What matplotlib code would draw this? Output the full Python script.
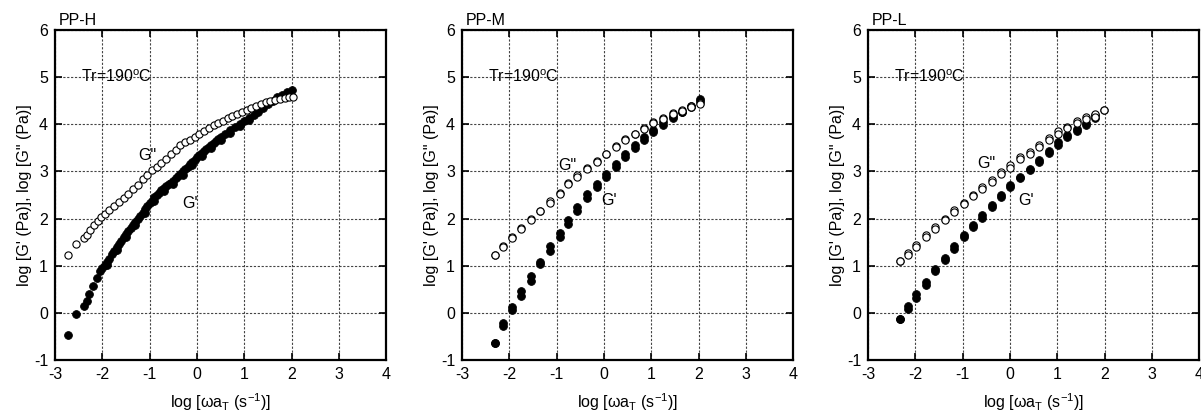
import matplotlib

matplotlib.use("Agg")
import matplotlib.pyplot as plt  # noqa: E402

plt.rcParams["font.family"] = ["Liberation Sans", "DejaVu Sans"]
plt.rcParams["mathtext.fontset"] = "custom"
plt.rcParams["mathtext.rm"] = "Liberation Sans"
plt.rcParams["mathtext.it"] = "Liberation Sans:italic"
plt.rcParams["axes.unicode_minus"] = False

# ---- PP-H (dense master curve) ----
h_gpp_x = [-2.72, -2.55, -2.38, -2.32, -2.25, -2.18, -2.10, -2.02, -1.95, -1.85,
           -1.75, -1.65, -1.55, -1.45, -1.35, -1.25, -1.15, -1.05, -0.95, -0.85,
           -0.75, -0.65, -0.55, -0.45, -0.35, -0.25, -0.15, -0.05, 0.05, 0.15,
           0.25, 0.35, 0.45, 0.55, 0.65, 0.75, 0.85, 0.95, 1.05, 1.15,
           1.25, 1.35, 1.45, 1.55, 1.65, 1.75, 1.85, 1.95, 2.02]
h_gpp_y = [1.23, 1.47, 1.58, 1.66, 1.76, 1.86, 1.95, 2.04, 2.10, 2.18,
           2.27, 2.35, 2.43, 2.52, 2.62, 2.72, 2.83, 2.93, 3.02, 3.10,
           3.18, 3.27, 3.37, 3.46, 3.55, 3.62, 3.67, 3.74, 3.80, 3.86,
           3.93, 3.98, 4.03, 4.08, 4.13, 4.17, 4.22, 4.27, 4.31, 4.35,
           4.39, 4.43, 4.47, 4.50, 4.51, 4.53, 4.55, 4.57, 4.58]
h_gp_x = [-2.72, -2.55, -2.39, -2.33, -2.28, -2.20, -2.12, -2.05, -2.00, -1.95,
          -1.90, -1.85, -1.80, -1.75, -1.70, -1.65, -1.60, -1.55, -1.50, -1.45,
          -1.40, -1.35, -1.30, -1.25, -1.20, -1.15, -1.10, -1.05, -1.00, -0.95,
          -0.90, -0.85, -0.80, -0.75, -0.70, -0.65, -0.60, -0.55, -0.50, -0.45,
          -0.40, -0.35, -0.30, -0.25, -0.20, -0.15, -0.10, -0.05, 0.00, 0.05,
          0.10, 0.15, 0.20, 0.25, 0.30, 0.35, 0.40, 0.45, 0.50, 0.60,
          0.70, 0.80, 0.90, 1.00, 1.10, 1.20, 1.30, 1.40, 1.50, 1.60,
          1.70, 1.80, 1.90, 2.00]
h_gp_y = [-0.47, -0.03, 0.14, 0.25, 0.41, 0.57, 0.74, 0.88, 0.95, 1.02,
          1.08, 1.15, 1.25, 1.32, 1.40, 1.45, 1.52, 1.60, 1.67, 1.73,
          1.80, 1.87, 1.93, 2.00, 2.05, 2.12, 2.20, 2.27, 2.33, 2.38,
          2.45, 2.50, 2.55, 2.60, 2.65, 2.70, 2.73, 2.76, 2.80, 2.85,
          2.90, 2.95, 3.00, 3.05, 3.10, 3.15, 3.20, 3.25, 3.30, 3.35,
          3.40, 3.44, 3.48, 3.52, 3.57, 3.61, 3.65, 3.69, 3.73, 3.80,
          3.87, 3.94, 4.01, 4.07, 4.14, 4.20, 4.27, 4.34, 4.42, 4.50,
          4.57, 4.63, 4.68, 4.72]
# a second, slightly lower run of G' in the middle of the PP-H curve
h_gp2_x = [-1.9, -1.7, -1.5, -1.3, -1.1, -0.9, -0.7, -0.5, -0.3, -0.1,
           0.1, 0.3, 0.5, 0.7, 0.9, 1.1]
h_gp2_y = [1.02, 1.33, 1.60, 1.86, 2.12, 2.37, 2.58, 2.74, 2.93, 3.13,
           3.33, 3.50, 3.67, 3.82, 3.96, 4.09]

# ---- PP-M (two overlapping runs) ----
m_x = [-2.31, -2.13, -1.94, -1.75, -1.54, -1.35, -1.15, -0.94, -0.75, -0.56,
       -0.35, -0.15, 0.05, 0.25, 0.44, 0.65, 0.85, 1.04, 1.25, 1.45,
       1.65, 1.84, 2.02]
m_gpp_a = [1.22, 1.41, 1.61, 1.80, 1.99, 2.16, 2.37, 2.55, 2.76, 2.92,
           3.08, 3.23, 3.38, 3.54, 3.68, 3.80, 3.92, 4.04, 4.14, 4.23,
           4.30, 4.38, 4.46]
m_gpp_b = [1.22, 1.39, 1.58, 1.77, 1.96, 2.15, 2.34, 2.53, 2.73, 2.89,
           3.06, 3.21, 3.36, 3.52, 3.66, 3.79, 3.91, 4.02, 4.12, 4.21,
           4.28, 4.37, 4.43]
m_gp_a = [-0.65, -0.22, 0.13, 0.47, 0.78, 1.08, 1.41, 1.70, 1.98, 2.25,
          2.53, 2.74, 2.95, 3.15, 3.37, 3.55, 3.72, 3.87, 4.04, 4.17,
          4.27, 4.39, 4.53]
m_gp_b = [-0.65, -0.27, 0.06, 0.36, 0.68, 1.04, 1.32, 1.61, 1.88, 2.16,
          2.44, 2.66, 2.88, 3.10, 3.30, 3.49, 3.67, 3.83, 3.99, 4.14,
          4.25, 4.37, 4.49]

# ---- PP-L (two overlapping runs) ----
l_x = [-2.33, -2.16, -1.98, -1.77, -1.58, -1.38, -1.18, -0.98, -0.78, -0.58,
       -0.38, -0.18, 0.01, 0.22, 0.42, 0.61, 0.82, 1.01, 1.21, 1.42,
       1.61, 1.80, 1.99]
l_gpp_a = [1.10, 1.26, 1.44, 1.65, 1.82, 2.00, 2.18, 2.34, 2.51, 2.67,
           2.81, 2.99, 3.13, 3.31, 3.42, 3.56, 3.71, 3.85, 3.95, 4.07,
           4.16, 4.21, 4.30]
l_gpp_b = [1.10, 1.22, 1.40, 1.60, 1.78, 1.96, 2.14, 2.31, 2.47, 2.63,
           2.78, 2.95, 3.08, 3.26, 3.38, 3.52, 3.66, 3.79, 3.92, 4.03,
           4.11, 4.16, 4.30]
l_gp_a = [-0.13, 0.14, 0.39, 0.66, 0.92, 1.17, 1.41, 1.65, 1.86, 2.07,
          2.28, 2.50, 2.71, 2.89, 3.06, 3.24, 3.44, 3.63, 3.77, 3.89,
          4.02, 4.19]
l_gp_b = [-0.13, 0.08, 0.32, 0.60, 0.88, 1.12, 1.36, 1.60, 1.82, 2.02,
          2.24, 2.46, 2.66, 2.85, 3.02, 3.20, 3.39, 3.57, 3.73, 3.85,
          3.98, 4.13]

titles = ["PP-H", "PP-M", "PP-L"]
gpp_label_pos = [(-1.25, 3.33), (-0.96, 3.13), (-0.70, 3.17)]
gp_label_pos = [(-0.32, 2.32), (-0.05, 2.39), (0.18, 2.38)]
axes_left = [0.0458, 0.3847, 0.7227]

FS = 11.5


def style_axes(ax, title, gpp_pos, gp_pos):
    ax.set_xlim(-3, 4)
    ax.set_ylim(-1, 6)
    ax.set_xticks(range(-3, 5))
    ax.set_yticks(range(-1, 7))
    ax.grid(True, color="#444444", linestyle=(0, (2, 1.5)), linewidth=0.8)
    ax.set_axisbelow(True)
    ax.tick_params(direction="in", top=True, right=True, length=5, width=1.2,
                   labelsize=FS, pad=5)
    for sp in ax.spines.values():
        sp.set_linewidth(1.6)
    ax.set_xlabel("log [ωa$_{\\rm T}$ (s$^{-1}$)]", fontsize=FS, labelpad=7)
    ax.set_ylabel("log [G' (Pa)], log [G\" (Pa)]", fontsize=FS, labelpad=1)
    ax.text(0.01, 1.006, title, transform=ax.transAxes, ha="left", va="bottom",
            fontsize=FS)
    ax.text(-2.45, 5.0, "Tr=190$^{\\rm o}$C", ha="left", va="center", fontsize=FS)
    ax.text(gpp_pos[0], gpp_pos[1], 'G"', ha="left", va="center", fontsize=FS)
    ax.text(gp_pos[0], gp_pos[1], "G'", ha="left", va="center", fontsize=FS)


fig = plt.figure(figsize=(12.01, 4.17), dpi=100)
axs = [fig.add_axes([left, 0.1367, 0.2758, 0.7914]) for left in axes_left]

filled = dict(marker="o", linestyle="none", color="black", markersize=5.6,
              markeredgewidth=0.6)
hollow = dict(marker="o", linestyle="none", markerfacecolor="white",
              markeredgecolor="black", markersize=5.2, markeredgewidth=0.8)

ax = axs[0]
ax.plot(h_gp_x, h_gp_y, **filled)
ax.plot(h_gp2_x, h_gp2_y, **filled)
ax.plot(h_gpp_x, h_gpp_y, **hollow)

ax = axs[1]
ax.plot(m_x, m_gp_a, **filled)
ax.plot(m_x, m_gp_b, **filled)
ax.plot(m_x, m_gpp_a, **hollow)
ax.plot(m_x, m_gpp_b, **hollow)

ax = axs[2]
ax.plot(l_x[:len(l_gp_a)], l_gp_a, **filled)
ax.plot(l_x[:len(l_gp_b)], l_gp_b, **filled)
ax.plot(l_x, l_gpp_a, **hollow)
ax.plot(l_x, l_gpp_b, **hollow)

for ax, t, p1, p2 in zip(axs, titles, gpp_label_pos, gp_label_pos):
    style_axes(ax, t, p1, p2)

fig.savefig("out.png", dpi=100)
